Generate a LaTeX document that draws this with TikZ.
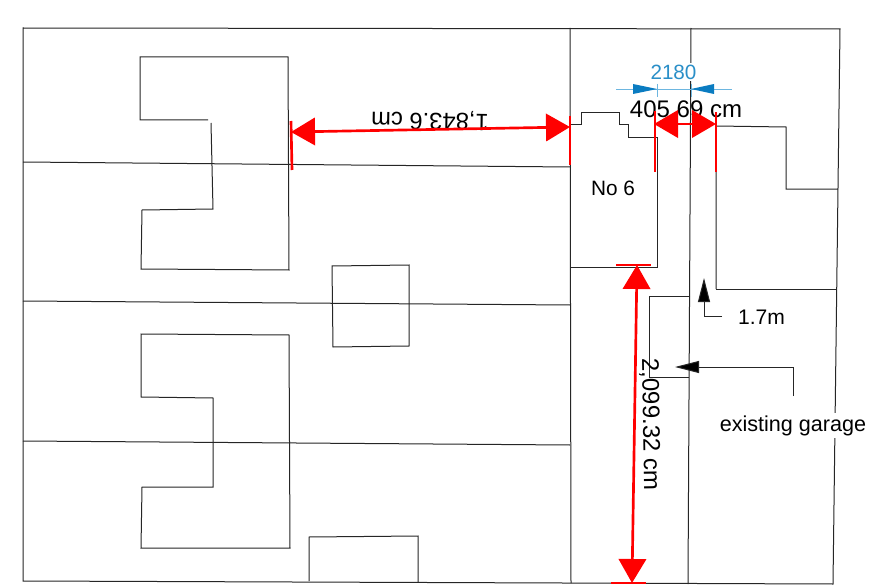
\documentclass[tikz,border=0pt]{standalone}
\usepackage{fontspec}
\setmainfont{Liberation Sans}
\usetikzlibrary{arrows.meta}
\definecolor{dimblue}{HTML}{0A7CC1}
\definecolor{dimtext}{HTML}{2A8FC8}
\definecolor{dimline}{HTML}{6DB6E0}
\tikzset{
  px/.style={x=0.75pt,y=-0.75pt},
  plan/.style={draw=black!85,line width=0.75pt,line join=miter},
  redtick/.style={draw=red,line width=2pt},
  reddim/.style={draw=red,line width=2pt,{Triangle[length=18pt,width=20.5pt,fill=red]}-{Triangle[length=18pt,width=20.5pt,fill=red]},shorten <=0pt,shorten >=0pt},
  leader/.style={draw=black!85,line width=0.75pt,-{Triangle[length=18pt,width=9pt,fill=black]}},
  bluedim/.style={draw=dimline,line width=0.7pt},
  bluehead/.style={draw=none,fill=dimblue},
  lab/.style={inner sep=0pt,text=black},
}
\begin{document}
\begin{tikzpicture}[px]
\useasboundingbox (0,0) rectangle (890,585);
\fill[white] (0,0) rectangle (890,585);
% site outline and plot lines
\draw[plan] (23,28) -- (840,29) -- (833,584) -- (23,581) -- cycle;
\draw[plan] (570,28) -- (571,583);
\draw[plan] (691,28) -- (688,584);
\draw[plan] (23,162) -- (570,167);
\draw[plan] (23,301) -- (570,305);
\draw[plan] (23,441) -- (570,445);
% houses
\draw[plan] (208,120) -- (140,120) -- (140,57) -- (288,57) -- (289,270) -- (141,269) -- (142,210) -- (213,209) -- (211,123);
\draw[plan] (141,334) -- (289,335) -- (290,548) -- (141,548) -- (142,487) -- (213,487) -- (213,398) -- (141,397) -- cycle;
\draw[plan] (332,266) -- (409,265) -- (409,346) -- (333,347) -- cycle;
\draw[plan] (309,581) -- (309,537) -- (418,536) -- (418,582);
% No 6
\draw[plan] (570,125) -- (581,125) -- (581,113) -- (619,113) -- (619,125) -- (628,125) -- (628,138) -- (657,138) -- (657,267) -- (570,267);
% neighbour
\draw[plan] (716,289) -- (716,126) -- (786,127) -- (786,189) -- (838,189);
\draw[plan] (716,289) -- (837,289);
% garage
\draw[plan] (690,296) -- (649,296) -- (649,377) -- (689,377);
% labels
\node[lab,fill=white,inner sep=1pt,font=\fontsize{15.5}{15.5}\selectfont,text=dimtext] (t2180) at (673.5,72) {2180};
\node[lab,font=\fontsize{18}{18}\selectfont] (t405) at (686,109) {405.69 cm};
\node[lab,font=\fontsize{15.6}{16}\selectfont] (tno) at (613,188) {No 6};
\node[lab,font=\fontsize{15.8}{16}\selectfont] (t17) at (761.5,317) {1.7m};
\node[lab,fill=white,inner xsep=1pt,inner ysep=2pt,font=\fontsize{16.2}{16}\selectfont] (tgar) at (793,425.5) {existing garage};
\node[lab,rotate=179,font=\fontsize{17.8}{18}\selectfont] (t1843) at (430,120) {1,843.6 cm};
\node[lab,rotate=-89,font=\fontsize{18}{18}\selectfont] (t2099) at (650,424.5) {2,099.32 cm};
% leaders
\coordinate (a1) at (722,316);
\coordinate (a2) at (704,316);
\coordinate (a3) at (704,278);
\draw[leader] (a1) -- (a2) -- (a3);
\coordinate (b1) at (793,396);
\coordinate (b2) at (793,367);
\coordinate (b3) at (675,367);
\draw[leader] (b1) -- (b2) -- (b3);
% blue dimension
\coordinate (bl) at (616,89);
\coordinate (br) at (732,89);
\coordinate (bt1) at (657,89);
\coordinate (bt2) at (691,89);
\draw[bluedim] (bl) -- (br);
\draw[bluedim] (657,84) -- (657,97);
\draw[bluedim] (691,84) -- (691,97);
\fill[bluehead] (bt1) -- (633,84) -- (633,94) -- cycle;
\fill[bluehead] (bt2) -- (714,84) -- (714,94) -- cycle;
% red dimensions
\coordinate (h1) at (291,132);
\coordinate (h2) at (570,127);
\draw[reddim] (h1) -- (h2);
\draw[redtick] (291,121) -- (292,170);
\draw[redtick] (570,116) -- (570,165);
\coordinate (m1) at (654,124);
\coordinate (m2) at (716,124);
\draw[reddim] (m1) -- (m2);
\draw[redtick] (655,111) -- (655,172);
\draw[redtick] (716,112) -- (716,172);
\coordinate (v1) at (637,265);
\coordinate (v2) at (632,583);
\draw[reddim] (v1) -- (v2);
\draw[redtick] (616,265) -- (651,265);
\draw[redtick] (611,583) -- (646,583);
\end{tikzpicture}
\end{document}
